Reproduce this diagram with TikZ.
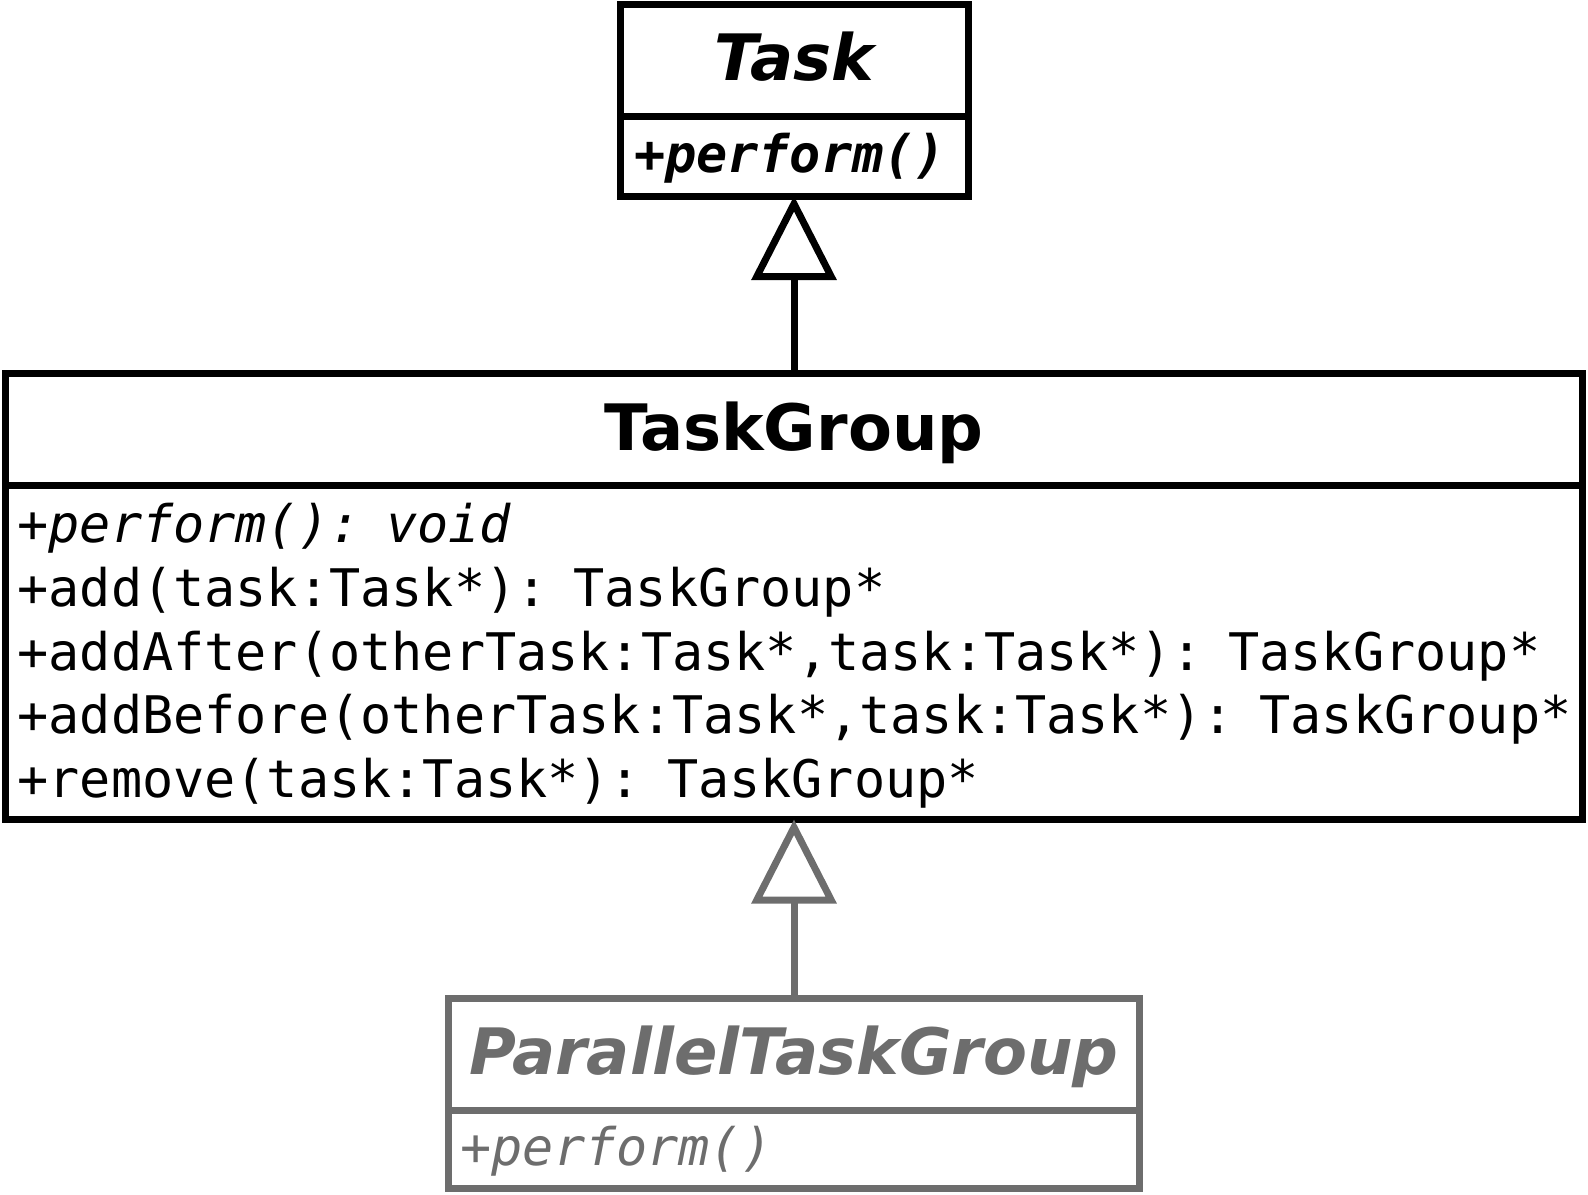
\documentclass[tikz,border=0pt]{standalone}
\usepackage{fontspec}
\setmainfont{DejaVu Sans}
\setmonofont{DejaVu Sans Mono}
\usetikzlibrary{arrows.meta, positioning}
\definecolor{subgray}{RGB}{109,109,109}

\begin{document}
\begin{tikzpicture}[
    node distance=0pt,
    classname/.style={rectangle, draw, line width=3.5pt, outer sep=0pt,
                      minimum height=56pt, align=center,
                      text height=24.5pt, text depth=3.7pt,
                      font=\bfseries\fontsize{32}{38}\selectfont},
    methods/.style={rectangle, draw, line width=3.5pt, outer sep=0pt,
                    inner xsep=6pt, inner ysep=0pt, align=left,
                    font=\ttfamily\fontsize{25.9}{31.9}\selectfont},
    oneline/.style={text height=21.6pt, text depth=5.4pt},
    inherit/.style={-{Triangle[open, length=42pt, width=42pt]}, line width=3.5pt},
]
\useasboundingbox (0,0) rectangle (794pt,-597pt);

% Task (abstract)
\node[classname, minimum width=174pt] (task) at (397pt,-30pt) {\itshape Task};
\node[methods, oneline, below=of task, minimum height=40pt, inner xsep=7pt, text width=160pt] (taskops)
    {\bfseries\itshape +perform()};

% TaskGroup
\node[classname, minimum width=788.5pt] (tg) at (397pt,-214.75pt) {TaskGroup};
\node[methods, below=of tg, minimum height=167pt, text height=23pt, text width=776.5pt] (tgops)
    {+\textit{perform(): void}\\
     \mbox{+add(task:Task*): TaskGroup*}\\
     \mbox{+addAfter(otherTask:Task*,task:Task*): TaskGroup*}\\
     \mbox{+addBefore(otherTask:Task*,task:Task*): TaskGroup*}\\
     \mbox{+remove(task:Task*): TaskGroup*}};

% ParallelTaskGroup
\node[classname, draw=subgray, text=subgray, minimum width=345.5pt] (ptg) at (397pt,-527pt)
    {\itshape ParallelTaskGroup};
\node[methods, oneline, draw=subgray, text=subgray, below=of ptg, minimum height=39pt, text width=333.5pt] (ptgops)
    {+\textit{perform()}};

% generalisation
\draw[inherit] (tg.north) -- (taskops.south);
\draw[inherit, subgray] (ptg.north) -- (tgops.south);

\end{tikzpicture}
\end{document}
